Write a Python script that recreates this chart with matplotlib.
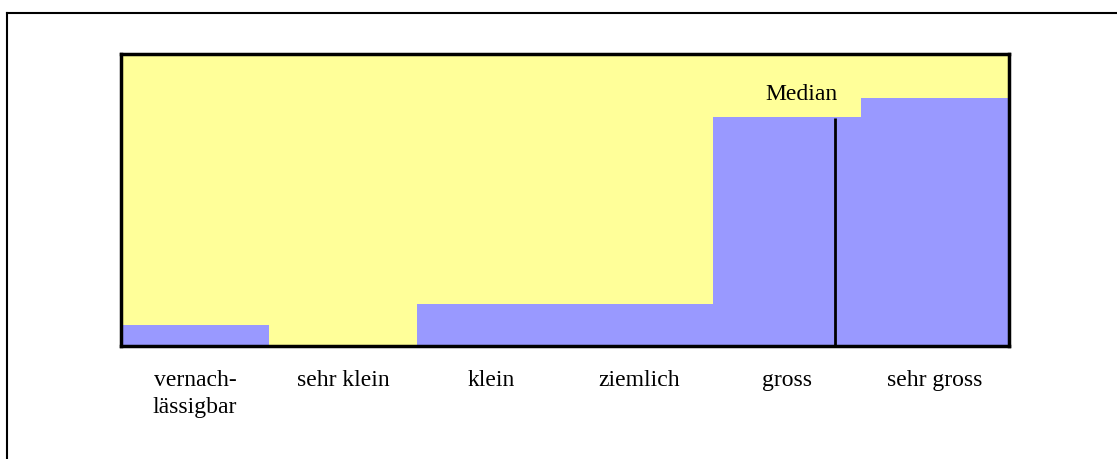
import matplotlib
matplotlib.use("Agg")
import matplotlib.pyplot as plt
from matplotlib.lines import Line2D

categories = ["vernach-\nlässigbar", "sehr klein", "klein", "ziemlich", "gross", "sehr gross"]
values = [7.2, 0.0, 14.4, 14.4, 78.4, 84.9]
median_pos = 4.325
median_top = 78.1
median_label = "Median"

plt.rcParams['font.family'] = ['Liberation Serif', 'DejaVu Serif']

W, H = 1117, 459
fig = plt.figure(figsize=(W / 100, H / 100), dpi=100)
fig.patch.set_facecolor("white")

# outer frame (top and left lines, running off the image)
fig.add_artist(Line2D([6.5 / W, 6.5 / W], [0, 1 - 12.5 / H], transform=fig.transFigure,
                      color="black", lw=1.5))
fig.add_artist(Line2D([6.5 / W, 1], [1 - 12.5 / H, 1 - 12.5 / H], transform=fig.transFigure,
                      color="black", lw=1.5))

left, right, top, bottom = 121, 1009, 54, 346
ax = fig.add_axes([left / W, 1 - bottom / H, (right - left) / W, (bottom - top) / H])
ax.set_facecolor("#FFFF99")

x = list(range(len(categories)))
ax.bar(x, values, width=1.0, color="#9999FF", edgecolor="none", zorder=2)
ax.set_xlim(-0.5, len(categories) - 0.5)
ax.set_ylim(0, 100)

ax.vlines(median_pos, 0, median_top, color="black", lw=2, zorder=3)
ax.text(median_pos - 0.23, median_top + 4.5, median_label, ha="center", va="bottom",
        fontsize=17, zorder=4)

ax.set_xticks(x)
ax.set_xticklabels(categories, fontsize=17, linespacing=1.4)
ax.tick_params(axis="x", length=0, pad=17)
ax.set_yticks([])
for s in ax.spines.values():
    s.set_linewidth(2.5)
    s.set_color("black")
    s.set_zorder(5)

fig.savefig("out.png", dpi=100)
